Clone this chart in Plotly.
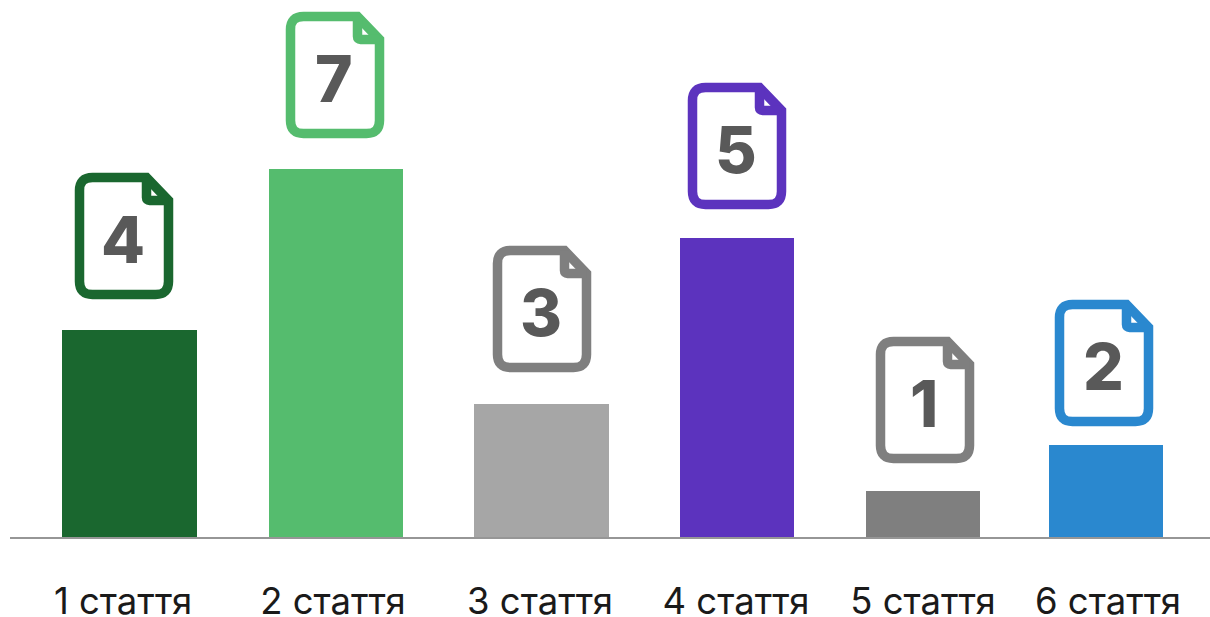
import plotly.graph_objects as go

categories = ["1 стаття", "2 стаття", "3 стаття", "4 стаття", "5 стаття", "6 стаття"]
counts = ["4", "7", "3", "5", "1", "2"]
bar_values = [207, 368, 133, 299, 46, 92]
bar_centers = [129.5, 336, 541.5, 737, 923, 1106]
bar_widths = [135, 134, 135, 114, 114, 114]
label_centers = [123, 333, 540, 736, 923, 1108]
bar_colors = ["#1A672F", "#55BC6E", "#A6A6A6", "#5C33BE", "#7F7F7F", "#2A88CF"]
icon_colors = ["#1A672F", "#55BC6E", "#7F7F7F", "#5C33BE", "#7F7F7F", "#2A88CF"]
icon_centers = [124, 335, 542, 737, 925, 1104]
icon_bottoms = [238, 399, 165, 328, 74, 111]

W, H = 1210, 617
BASE = 537


def icon_paths(cx, bottom):
    hw, h = 44.5, 117
    r = 13
    L, R = cx - hw, cx + hw
    B = bottom + 4.5
    T = B + h
    fx, fy = R - 22, T - 23
    body = (f"M{L + r},{T} L{fx},{T} L{R},{fy} L{R},{B + r} Q{R},{B} {R - r},{B} "
            f"L{L + r},{B} Q{L},{B} {L},{B + r} L{L},{T - r} Q{L},{T} {L + r},{T} Z")
    fold = f"M{fx},{T} L{fx},{fy + 3} Q{fx},{fy} {fx + 3},{fy} L{R},{fy}"
    return body, fold


fig = go.Figure(go.Bar(
    x=bar_centers, y=bar_values, width=bar_widths,
    marker=dict(color=bar_colors, line_width=0),
    hoverinfo="skip",
))

shapes, annotations = [], []
for cx, bottom, color, n in zip(icon_centers, icon_bottoms, icon_colors, counts):
    body, fold = icon_paths(cx, bottom)
    for p in (body, fold):
        shapes.append(dict(type="path", path=p, xref="x", yref="y",
                           line=dict(color=color, width=9.5), fillcolor="rgba(0,0,0,0)"))
    annotations.append(dict(
        x=cx - 1, y=bottom + 60, xref="x", yref="y", text=n, showarrow=False,
        font=dict(family="Inter", size=64, color="#595959", weight=800),
    ))

fig.update_layout(
    width=W, height=H, autosize=False,
    margin=dict(l=10, r=0, t=0, b=H - BASE, pad=0),
    paper_bgcolor="white", plot_bgcolor="white",
    showlegend=False, shapes=shapes, annotations=annotations,
    xaxis=dict(range=[10, 1210], tickmode="array", tickvals=label_centers, ticktext=categories,
               showgrid=False, zeroline=False, showline=True, linecolor="#969696", linewidth=1.5,
               ticks="", ticklabelstandoff=31, automargin=False,
               tickfont=dict(family="Inter", size=36.5, color="#1A1A1A")),
    yaxis=dict(range=[0, BASE], visible=False, showgrid=False, zeroline=False, automargin=False),
)

fig.write_html("out.html", config=dict(displayModeBar=False),
               post_script="document.body.style.margin='0';")
